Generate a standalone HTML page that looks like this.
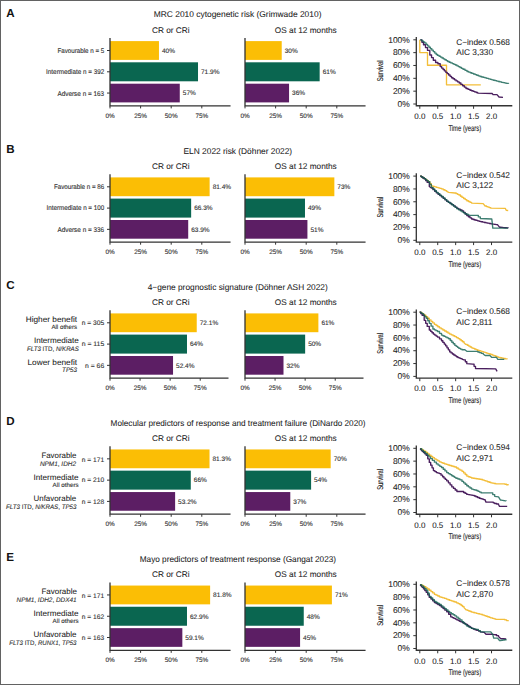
<!DOCTYPE html>
<html><head><meta charset="utf-8"><style>
html,body{margin:0;padding:0;background:#fff;}
body{width:520px;height:685px;overflow:hidden;position:relative;}
svg{position:absolute;left:0;top:0;font-family:"Liberation Sans", sans-serif;text-rendering:geometricPrecision;}
#frame{position:absolute;left:0;top:0;width:518px;height:683px;border:1px solid #626262;}
</style></head><body>
<svg width="520" height="685" viewBox="0 0 520 685">
<g transform="translate(0,0)">
<text x="6.20" y="16.50" font-size="11.6" font-weight="bold" fill="#111" stroke="#111" stroke-width="0">A</text>
<text x="237.60" y="17.40" font-size="8.4" text-anchor="middle" fill="#222222" stroke="#222222" stroke-width="0.06" textLength="167.70" lengthAdjust="spacingAndGlyphs">MRC 2010 cytogenetic risk (Grimwade 2010)</text>
<text x="170.80" y="33.00" font-size="8.25" text-anchor="middle" fill="#222222" stroke="#222222" stroke-width="0.06">CR or CRi</text>
<text x="305.80" y="33.00" font-size="8.25" text-anchor="middle" fill="#222222" stroke="#222222" stroke-width="0.06">OS at 12 months</text>
<g transform="translate(0,0)">
<rect x="110.00" y="41.1" width="48.96" height="18.80" fill="#FBBE05"/>
<text x="161.96" y="52.80" font-size="6.5" fill="#333" stroke="#333" stroke-width="0.12">40%</text>
<rect x="110.00" y="62.3" width="88.01" height="19.00" fill="#0A6650"/>
<text x="201.01" y="74.10" font-size="6.5" fill="#333" stroke="#333" stroke-width="0.12">71.9%</text>
<rect x="110.00" y="83.7" width="69.77" height="18.70" fill="#5C1E64"/>
<text x="182.77" y="95.35" font-size="6.5" fill="#333" stroke="#333" stroke-width="0.12">57%</text>
<path d="M110.00 38 V105.85 M109.35 105.85 H230.56" stroke="#333333" stroke-width="1.3" fill="none"/>
<path d="M110.00 105.85 V108.4" stroke="#333333" stroke-width="1" fill="none"/>
<text x="110.00" y="117.80" font-size="6.4" text-anchor="middle" fill="#333" stroke="#333" stroke-width="0.12">0%</text>
<path d="M140.60 105.85 V108.4" stroke="#333333" stroke-width="1" fill="none"/>
<text x="140.60" y="117.80" font-size="6.4" text-anchor="middle" fill="#333" stroke="#333" stroke-width="0.12">25%</text>
<path d="M171.20 105.85 V108.4" stroke="#333333" stroke-width="1" fill="none"/>
<text x="171.20" y="117.80" font-size="6.4" text-anchor="middle" fill="#333" stroke="#333" stroke-width="0.12">50%</text>
<path d="M201.80 105.85 V108.4" stroke="#333333" stroke-width="1" fill="none"/>
<text x="201.80" y="117.80" font-size="6.4" text-anchor="middle" fill="#333" stroke="#333" stroke-width="0.12">75%</text>
<path d="M107 50.50 H110" stroke="#333333" stroke-width="1" fill="none"/>
<path d="M107 71.80 H110" stroke="#333333" stroke-width="1" fill="none"/>
<path d="M107 93.05 H110" stroke="#333333" stroke-width="1" fill="none"/>
<rect x="245.00" y="41.1" width="36.72" height="18.80" fill="#FBBE05"/>
<text x="284.72" y="52.80" font-size="6.5" fill="#333" stroke="#333" stroke-width="0.12">30%</text>
<rect x="245.00" y="62.3" width="74.66" height="19.00" fill="#0A6650"/>
<text x="322.66" y="74.10" font-size="6.5" fill="#333" stroke="#333" stroke-width="0.12">61%</text>
<rect x="245.00" y="83.7" width="44.06" height="18.70" fill="#5C1E64"/>
<text x="292.06" y="95.35" font-size="6.5" fill="#333" stroke="#333" stroke-width="0.12">36%</text>
<path d="M245.00 38 V105.85 M244.35 105.85 H365.56" stroke="#333333" stroke-width="1.3" fill="none"/>
<path d="M245.00 105.85 V108.4" stroke="#333333" stroke-width="1" fill="none"/>
<text x="245.00" y="117.80" font-size="6.4" text-anchor="middle" fill="#333" stroke="#333" stroke-width="0.12">0%</text>
<path d="M275.60 105.85 V108.4" stroke="#333333" stroke-width="1" fill="none"/>
<text x="275.60" y="117.80" font-size="6.4" text-anchor="middle" fill="#333" stroke="#333" stroke-width="0.12">25%</text>
<path d="M306.20 105.85 V108.4" stroke="#333333" stroke-width="1" fill="none"/>
<text x="306.20" y="117.80" font-size="6.4" text-anchor="middle" fill="#333" stroke="#333" stroke-width="0.12">50%</text>
<path d="M336.80 105.85 V108.4" stroke="#333333" stroke-width="1" fill="none"/>
<text x="336.80" y="117.80" font-size="6.4" text-anchor="middle" fill="#333" stroke="#333" stroke-width="0.12">75%</text>
</g>
</g>
<text x="80.80" y="52.90" font-size="6.8" text-anchor="middle" fill="#333" stroke="#333" stroke-width="0.12" textLength="46.80" lengthAdjust="spacingAndGlyphs">Favourable n = 5</text>
<text x="75.15" y="74.30" font-size="6.8" text-anchor="middle" fill="#333" stroke="#333" stroke-width="0.12" textLength="58.10" lengthAdjust="spacingAndGlyphs">Intermediate n = 392</text>
<text x="80.80" y="95.75" font-size="6.8" text-anchor="middle" fill="#333" stroke="#333" stroke-width="0.12" textLength="46.80" lengthAdjust="spacingAndGlyphs">Adverse n = 163</text>
<g transform="translate(0,0)">
<g transform="translate(0,0)">
<path d="M416.3 37 V105.75 H512.3" stroke="#333333" stroke-width="1.3" fill="none"/>
<path d="M413.3 104.00 H416.3" stroke="#333333" stroke-width="1" fill="none"/>
<text x="409.80" y="106.75" font-size="8.45" text-anchor="end" fill="#222222" stroke="#222222" stroke-width="0.06">0%</text>
<path d="M413.3 91.16 H416.3" stroke="#333333" stroke-width="1" fill="none"/>
<text x="409.80" y="93.91" font-size="8.45" text-anchor="end" fill="#222222" stroke="#222222" stroke-width="0.06">20%</text>
<path d="M413.3 78.32 H416.3" stroke="#333333" stroke-width="1" fill="none"/>
<text x="409.80" y="81.07" font-size="8.45" text-anchor="end" fill="#222222" stroke="#222222" stroke-width="0.06">40%</text>
<path d="M413.3 65.48 H416.3" stroke="#333333" stroke-width="1" fill="none"/>
<text x="409.80" y="68.23" font-size="8.45" text-anchor="end" fill="#222222" stroke="#222222" stroke-width="0.06">60%</text>
<path d="M413.3 52.64 H416.3" stroke="#333333" stroke-width="1" fill="none"/>
<text x="409.80" y="55.39" font-size="8.45" text-anchor="end" fill="#222222" stroke="#222222" stroke-width="0.06">80%</text>
<path d="M413.3 39.80 H416.3" stroke="#333333" stroke-width="1" fill="none"/>
<text x="409.80" y="42.55" font-size="8.45" text-anchor="end" fill="#222222" stroke="#222222" stroke-width="0.06">100%</text>
<path d="M419.80 105.75 V108.8" stroke="#333333" stroke-width="1" fill="none"/>
<text x="419.80" y="119.00" font-size="8.0" text-anchor="middle" fill="#222222" stroke="#222222" stroke-width="0.06">0.0</text>
<path d="M437.73 105.75 V108.8" stroke="#333333" stroke-width="1" fill="none"/>
<text x="437.73" y="119.00" font-size="8.0" text-anchor="middle" fill="#222222" stroke="#222222" stroke-width="0.06">0.5</text>
<path d="M455.66 105.75 V108.8" stroke="#333333" stroke-width="1" fill="none"/>
<text x="455.66" y="119.00" font-size="8.0" text-anchor="middle" fill="#222222" stroke="#222222" stroke-width="0.06">1.0</text>
<path d="M473.59 105.75 V108.8" stroke="#333333" stroke-width="1" fill="none"/>
<text x="473.59" y="119.00" font-size="8.0" text-anchor="middle" fill="#222222" stroke="#222222" stroke-width="0.06">1.5</text>
<path d="M491.52 105.75 V108.8" stroke="#333333" stroke-width="1" fill="none"/>
<text x="491.52" y="119.00" font-size="8.0" text-anchor="middle" fill="#222222" stroke="#222222" stroke-width="0.06">2.0</text>
<text transform="translate(382.6,70.9) rotate(-90) scale(0.7,1)" text-anchor="middle" font-size="8.4" fill="#222222" stroke="#222222" stroke-width="0.12">Survival</text>
<text transform="translate(464.8,130.9) scale(0.7,1)" text-anchor="middle" font-size="8.4" fill="#222222" stroke="#222222" stroke-width="0.12">Time (years)</text>
</g>
<text x="456.20" y="45.00" font-size="8.3" fill="#222222" stroke="#222222" stroke-width="0.06">C−index 0.568</text>
<text x="456.20" y="55.30" font-size="8.3" fill="#222222" stroke="#222222" stroke-width="0.06">AIC 3,330</text>
</g>
<path d="M419.80 39.80 L419.80 52.60 L427.50 52.60 L427.50 65.20 L446.50 65.20 L446.50 84.80 L480.80 84.80" stroke="#F3BE3A" stroke-width="1.35" stroke-opacity="1" fill="none" stroke-linejoin="round"/>
<path d="M420.30 39.80 L421.90 39.80 L421.90 42.25 L423.50 42.25 L423.50 44.70 L425.50 44.70 L425.50 47.55 L427.50 47.55 L427.50 50.40 L429.80 50.40 L429.80 55.00 L431.55 55.00 L431.55 57.60 L433.30 57.60 L433.30 60.20 L435.60 60.20 L435.60 62.50 L437.90 62.50 L437.90 63.70 L440.20 63.70 L440.20 66.60 L441.65 66.60 L441.65 68.05 L443.10 68.05 L443.10 69.50 L444.45 69.50 L444.45 70.90 L445.80 70.90 L445.80 72.30 L447.23 72.30 L447.23 73.65 L448.65 73.65 L448.65 75.00 L450.07 75.00 L450.07 76.35 L451.50 76.35 L451.50 77.70 L453.04 77.70 L453.04 78.76 L454.58 78.76 L454.58 79.82 L456.12 79.82 L456.12 80.88 L457.66 80.88 L457.66 81.94 L459.20 81.94 L459.20 83.00 L460.90 83.00 L460.90 84.38 L462.60 84.38 L462.60 85.75 L464.30 85.75 L464.30 87.12 L466.00 87.12 L466.00 88.50 L468.00 88.50 L468.00 89.35 L470.00 89.35 L470.00 90.20 L471.54 90.20 L471.54 90.78 L473.08 90.78 L473.08 91.36 L474.62 91.36 L474.62 91.94 L476.16 91.94 L476.16 92.52 L477.70 92.52 L477.70 93.10 L492.30 93.50 L493.00 94.60 L497.00 94.60 L499.00 97.00 L503.00 97.30" stroke="#4A1F5E" stroke-width="1.35" stroke-opacity="1" fill="none" stroke-linejoin="round"/>
<path d="M420.30 39.80 L421.77 39.80 L421.77 40.83 L423.23 40.83 L423.23 41.87 L424.70 41.87 L424.70 42.90 L426.12 42.90 L426.12 44.35 L427.55 44.35 L427.55 45.80 L428.97 45.80 L428.97 47.25 L430.40 47.25 L430.40 48.70 L431.85 48.70 L431.85 50.15 L433.30 50.15 L433.30 51.60 L434.75 51.60 L434.75 53.05 L436.20 53.05 L436.20 54.50 L437.65 54.50 L437.65 55.38 L439.10 55.38 L439.10 56.25 L440.55 56.25 L440.55 57.12 L442.00 57.12 L442.00 58.00 L443.43 58.00 L443.43 58.88 L444.85 58.88 L444.85 59.75 L446.27 59.75 L446.27 60.62 L447.70 60.62 L447.70 61.50 L449.24 61.50 L449.24 62.20 L450.78 62.20 L450.78 62.90 L452.32 62.90 L452.32 63.60 L453.86 63.60 L453.86 64.30 L455.40 64.30 L455.40 65.00 L456.92 65.00 L456.92 65.84 L458.44 65.84 L458.44 66.68 L459.96 66.68 L459.96 67.52 L461.48 67.52 L461.48 68.36 L463.00 68.36 L463.00 69.20 L465.00 69.20 L465.00 70.35 L467.00 70.35 L467.00 71.50 L468.62 71.50 L468.62 72.12 L470.25 72.12 L470.25 72.75 L471.88 72.75 L471.88 73.38 L473.50 73.38 L473.50 74.00 L475.12 74.00 L475.12 74.62 L476.75 74.62 L476.75 75.25 L478.38 75.25 L478.38 75.88 L480.00 75.88 L480.00 76.50 L481.70 76.50 L481.70 76.97 L483.40 76.97 L483.40 77.44 L485.10 77.44 L485.10 77.91 L486.80 77.91 L486.80 78.39 L488.50 78.39 L488.50 78.86 L490.20 78.86 L490.20 79.33 L491.90 79.33 L491.90 79.80 L493.50 79.80 L493.50 80.22 L495.10 80.22 L495.10 80.63 L496.70 80.63 L496.70 81.05 L498.30 81.05 L498.30 81.47 L499.90 81.47 L499.90 81.88 L501.50 81.88 L501.50 82.30 L503.25 82.30 L503.25 82.67 L505.00 82.67 L505.00 83.05 L506.75 83.05 L506.75 83.42 L508.50 83.42 L508.50 83.80" stroke="#0E5E4E" stroke-width="1.35" stroke-opacity="0.8" fill="none" stroke-linejoin="round"/>
<g transform="translate(0,136)">
<text x="6.20" y="16.50" font-size="11.6" font-weight="bold" fill="#111" stroke="#111" stroke-width="0">B</text>
<text x="237.85" y="17.50" font-size="8.4" text-anchor="middle" fill="#222222" stroke="#222222" stroke-width="0.06" textLength="108.60" lengthAdjust="spacingAndGlyphs">ELN 2022 risk (Döhner 2022)</text>
<text x="170.80" y="33.00" font-size="8.25" text-anchor="middle" fill="#222222" stroke="#222222" stroke-width="0.06">CR or CRi</text>
<text x="305.80" y="33.00" font-size="8.25" text-anchor="middle" fill="#222222" stroke="#222222" stroke-width="0.06">OS at 12 months</text>
<g transform="translate(0,0.3)">
<rect x="110.00" y="41.1" width="99.63" height="18.80" fill="#FBBE05"/>
<text x="212.63" y="52.80" font-size="6.5" fill="#333" stroke="#333" stroke-width="0.12">81.4%</text>
<rect x="110.00" y="62.3" width="81.15" height="19.00" fill="#0A6650"/>
<text x="194.15" y="74.10" font-size="6.5" fill="#333" stroke="#333" stroke-width="0.12">66.3%</text>
<rect x="110.00" y="83.7" width="78.21" height="18.70" fill="#5C1E64"/>
<text x="191.21" y="95.35" font-size="6.5" fill="#333" stroke="#333" stroke-width="0.12">63.9%</text>
<path d="M110.00 38 V105.85 M109.35 105.85 H230.56" stroke="#333333" stroke-width="1.3" fill="none"/>
<path d="M110.00 105.85 V108.4" stroke="#333333" stroke-width="1" fill="none"/>
<text x="110.00" y="117.80" font-size="6.4" text-anchor="middle" fill="#333" stroke="#333" stroke-width="0.12">0%</text>
<path d="M140.60 105.85 V108.4" stroke="#333333" stroke-width="1" fill="none"/>
<text x="140.60" y="117.80" font-size="6.4" text-anchor="middle" fill="#333" stroke="#333" stroke-width="0.12">25%</text>
<path d="M171.20 105.85 V108.4" stroke="#333333" stroke-width="1" fill="none"/>
<text x="171.20" y="117.80" font-size="6.4" text-anchor="middle" fill="#333" stroke="#333" stroke-width="0.12">50%</text>
<path d="M201.80 105.85 V108.4" stroke="#333333" stroke-width="1" fill="none"/>
<text x="201.80" y="117.80" font-size="6.4" text-anchor="middle" fill="#333" stroke="#333" stroke-width="0.12">75%</text>
<path d="M107 50.50 H110" stroke="#333333" stroke-width="1" fill="none"/>
<path d="M107 71.80 H110" stroke="#333333" stroke-width="1" fill="none"/>
<path d="M107 93.05 H110" stroke="#333333" stroke-width="1" fill="none"/>
<rect x="245.00" y="41.1" width="89.35" height="18.80" fill="#FBBE05"/>
<text x="337.35" y="52.80" font-size="6.5" fill="#333" stroke="#333" stroke-width="0.12">73%</text>
<rect x="245.00" y="62.3" width="59.98" height="19.00" fill="#0A6650"/>
<text x="307.98" y="74.10" font-size="6.5" fill="#333" stroke="#333" stroke-width="0.12">49%</text>
<rect x="245.00" y="83.7" width="62.42" height="18.70" fill="#5C1E64"/>
<text x="310.42" y="95.35" font-size="6.5" fill="#333" stroke="#333" stroke-width="0.12">51%</text>
<path d="M245.00 38 V105.85 M244.35 105.85 H365.56" stroke="#333333" stroke-width="1.3" fill="none"/>
<path d="M245.00 105.85 V108.4" stroke="#333333" stroke-width="1" fill="none"/>
<text x="245.00" y="117.80" font-size="6.4" text-anchor="middle" fill="#333" stroke="#333" stroke-width="0.12">0%</text>
<path d="M275.60 105.85 V108.4" stroke="#333333" stroke-width="1" fill="none"/>
<text x="275.60" y="117.80" font-size="6.4" text-anchor="middle" fill="#333" stroke="#333" stroke-width="0.12">25%</text>
<path d="M306.20 105.85 V108.4" stroke="#333333" stroke-width="1" fill="none"/>
<text x="306.20" y="117.80" font-size="6.4" text-anchor="middle" fill="#333" stroke="#333" stroke-width="0.12">50%</text>
<path d="M336.80 105.85 V108.4" stroke="#333333" stroke-width="1" fill="none"/>
<text x="336.80" y="117.80" font-size="6.4" text-anchor="middle" fill="#333" stroke="#333" stroke-width="0.12">75%</text>
</g>
</g>
<text x="79.05" y="188.90" font-size="6.8" text-anchor="middle" fill="#333" stroke="#333" stroke-width="0.12" textLength="50.30" lengthAdjust="spacingAndGlyphs">Favourable n = 86</text>
<text x="75.40" y="210.30" font-size="6.8" text-anchor="middle" fill="#333" stroke="#333" stroke-width="0.12" textLength="57.60" lengthAdjust="spacingAndGlyphs">Intermediate n = 100</text>
<text x="80.80" y="231.90" font-size="6.8" text-anchor="middle" fill="#333" stroke="#333" stroke-width="0.12" textLength="46.80" lengthAdjust="spacingAndGlyphs">Adverse n = 336</text>
<g transform="translate(0,136)">
<g transform="translate(0,0.3)">
<path d="M416.3 37 V105.75 H512.3" stroke="#333333" stroke-width="1.3" fill="none"/>
<path d="M413.3 104.00 H416.3" stroke="#333333" stroke-width="1" fill="none"/>
<text x="409.80" y="106.75" font-size="8.45" text-anchor="end" fill="#222222" stroke="#222222" stroke-width="0.06">0%</text>
<path d="M413.3 91.16 H416.3" stroke="#333333" stroke-width="1" fill="none"/>
<text x="409.80" y="93.91" font-size="8.45" text-anchor="end" fill="#222222" stroke="#222222" stroke-width="0.06">20%</text>
<path d="M413.3 78.32 H416.3" stroke="#333333" stroke-width="1" fill="none"/>
<text x="409.80" y="81.07" font-size="8.45" text-anchor="end" fill="#222222" stroke="#222222" stroke-width="0.06">40%</text>
<path d="M413.3 65.48 H416.3" stroke="#333333" stroke-width="1" fill="none"/>
<text x="409.80" y="68.23" font-size="8.45" text-anchor="end" fill="#222222" stroke="#222222" stroke-width="0.06">60%</text>
<path d="M413.3 52.64 H416.3" stroke="#333333" stroke-width="1" fill="none"/>
<text x="409.80" y="55.39" font-size="8.45" text-anchor="end" fill="#222222" stroke="#222222" stroke-width="0.06">80%</text>
<path d="M413.3 39.80 H416.3" stroke="#333333" stroke-width="1" fill="none"/>
<text x="409.80" y="42.55" font-size="8.45" text-anchor="end" fill="#222222" stroke="#222222" stroke-width="0.06">100%</text>
<path d="M419.80 105.75 V108.8" stroke="#333333" stroke-width="1" fill="none"/>
<text x="419.80" y="119.00" font-size="8.0" text-anchor="middle" fill="#222222" stroke="#222222" stroke-width="0.06">0.0</text>
<path d="M437.73 105.75 V108.8" stroke="#333333" stroke-width="1" fill="none"/>
<text x="437.73" y="119.00" font-size="8.0" text-anchor="middle" fill="#222222" stroke="#222222" stroke-width="0.06">0.5</text>
<path d="M455.66 105.75 V108.8" stroke="#333333" stroke-width="1" fill="none"/>
<text x="455.66" y="119.00" font-size="8.0" text-anchor="middle" fill="#222222" stroke="#222222" stroke-width="0.06">1.0</text>
<path d="M473.59 105.75 V108.8" stroke="#333333" stroke-width="1" fill="none"/>
<text x="473.59" y="119.00" font-size="8.0" text-anchor="middle" fill="#222222" stroke="#222222" stroke-width="0.06">1.5</text>
<path d="M491.52 105.75 V108.8" stroke="#333333" stroke-width="1" fill="none"/>
<text x="491.52" y="119.00" font-size="8.0" text-anchor="middle" fill="#222222" stroke="#222222" stroke-width="0.06">2.0</text>
<text transform="translate(382.6,70.9) rotate(-90) scale(0.7,1)" text-anchor="middle" font-size="8.4" fill="#222222" stroke="#222222" stroke-width="0.12">Survival</text>
<text transform="translate(464.8,130.9) scale(0.7,1)" text-anchor="middle" font-size="8.4" fill="#222222" stroke="#222222" stroke-width="0.12">Time (years)</text>
</g>
<text x="456.20" y="42.00" font-size="8.3" fill="#222222" stroke="#222222" stroke-width="0.06">C−index 0.542</text>
<text x="456.20" y="52.30" font-size="8.3" fill="#222222" stroke="#222222" stroke-width="0.06">AIC 3,122</text>
</g>
<path d="M420.10 176.10 L421.47 176.10 L421.47 176.93 L422.83 176.93 L422.83 177.77 L424.20 177.77 L424.20 178.60 L425.57 178.60 L425.57 179.63 L426.93 179.63 L426.93 180.67 L428.30 180.67 L428.30 181.70 L429.80 181.70 L429.80 183.75 L431.30 183.75 L431.30 185.80 L433.00 185.80 L433.00 186.30 L434.70 186.30 L434.70 186.80 L436.40 186.80 L436.40 187.30 L438.10 187.30 L438.10 187.83 L439.80 187.83 L439.80 188.37 L441.50 188.37 L441.50 188.90 L443.23 188.90 L443.23 189.73 L444.97 189.73 L444.97 190.57 L446.70 190.57 L446.70 191.40 L448.70 192.40 L454.80 193.00 L456.17 193.00 L456.17 193.67 L457.53 193.67 L457.53 194.33 L458.90 194.33 L458.90 195.00 L460.45 195.00 L460.45 196.20 L462.00 196.20 L462.00 197.40 L463.60 197.40 L463.60 198.50 L465.20 198.50 L465.20 199.60 L466.80 199.60 L466.80 200.70 L468.40 200.70 L468.40 201.50 L470.00 201.50 L470.00 202.30 L471.60 202.30 L471.60 203.10 L483.20 203.60 L485.10 206.00 L486.53 206.00 L486.53 206.55 L487.95 206.55 L487.95 207.10 L489.38 207.10 L489.38 207.65 L490.80 207.65 L490.80 208.20 L505.30 208.40 L506.20 210.30 L508.20 210.50" stroke="#F3BE3A" stroke-width="1.35" stroke-opacity="1" fill="none" stroke-linejoin="round"/>
<path d="M420.10 176.10 L421.47 176.10 L421.47 177.03 L422.83 177.03 L422.83 177.97 L424.20 177.97 L424.20 178.90 L425.70 178.90 L425.70 180.65 L427.20 180.65 L427.20 182.40 L429.30 182.40 L429.30 186.50 L431.30 188.00 L433.00 188.00 L433.00 189.63 L434.70 189.63 L434.70 191.27 L436.40 191.27 L436.40 192.90 L438.10 192.90 L438.10 194.23 L439.80 194.23 L439.80 195.57 L441.50 195.57 L441.50 196.90 L443.23 196.90 L443.23 198.37 L444.97 198.37 L444.97 199.83 L446.70 199.83 L446.70 201.30 L448.40 201.30 L448.40 202.40 L450.10 202.40 L450.10 203.50 L451.80 203.50 L451.80 204.60 L453.50 204.60 L453.50 205.83 L455.20 205.83 L455.20 207.07 L456.90 207.07 L456.90 208.30 L458.60 208.30 L458.60 209.13 L460.30 209.13 L460.30 209.97 L462.00 209.97 L462.00 210.80 L463.60 210.80 L463.60 212.40 L465.20 212.40 L465.20 214.00 L466.80 214.00 L466.80 215.60 L468.40 215.60 L468.40 216.73 L470.00 216.73 L470.00 217.87 L471.60 217.87 L471.60 219.00 L473.14 219.00 L473.14 219.48 L474.68 219.48 L474.68 219.96 L476.22 219.96 L476.22 220.44 L477.76 220.44 L477.76 220.92 L479.30 220.92 L479.30 221.40 L480.98 221.40 L480.98 221.75 L482.65 221.75 L482.65 222.10 L484.32 222.10 L484.32 222.45 L486.00 222.45 L486.00 222.80 L487.60 222.80 L487.60 223.13 L489.20 223.13 L489.20 223.47 L490.80 223.47 L490.80 223.80 L492.50 223.80 L492.50 224.05 L494.20 224.05 L494.20 224.30 L495.90 224.30 L495.90 224.55 L497.60 224.55 L497.60 224.80 L499.50 227.20 L501.24 227.20 L501.24 227.38 L502.98 227.38 L502.98 227.56 L504.72 227.56 L504.72 227.74 L506.46 227.74 L506.46 227.92 L508.20 227.92 L508.20 228.10" stroke="#4A1F5E" stroke-width="1.35" stroke-opacity="1" fill="none" stroke-linejoin="round"/>
<path d="M420.10 176.10 L421.47 176.10 L421.47 176.93 L422.83 176.93 L422.83 177.77 L424.20 177.77 L424.20 178.60 L425.57 178.60 L425.57 179.63 L426.93 179.63 L426.93 180.67 L428.30 180.67 L428.30 181.70 L429.80 181.70 L429.80 184.50 L431.30 184.50 L431.30 187.30 L433.00 187.30 L433.00 189.00 L434.70 189.00 L434.70 190.70 L436.40 190.70 L436.40 192.40 L438.10 192.40 L438.10 193.77 L439.80 193.77 L439.80 195.13 L441.50 195.13 L441.50 196.50 L443.23 196.50 L443.23 198.03 L444.97 198.03 L444.97 199.57 L446.70 199.57 L446.70 201.10 L448.40 201.10 L448.40 202.30 L450.10 202.30 L450.10 203.50 L451.80 203.50 L451.80 204.70 L453.50 204.70 L453.50 206.07 L455.20 206.07 L455.20 207.43 L456.90 207.43 L456.90 208.80 L458.60 208.80 L458.60 209.80 L460.30 209.80 L460.30 210.80 L462.00 210.80 L462.00 211.80 L463.45 211.80 L463.45 212.75 L464.90 212.75 L464.90 213.70 L466.80 213.70 L466.80 214.50 L468.70 214.50 L468.70 215.30 L476.40 215.30 L478.35 215.30 L478.35 216.90 L480.30 216.90 L480.30 218.50 L491.80 219.00 L492.80 228.10 L508.20 228.10" stroke="#0E5E4E" stroke-width="1.35" stroke-opacity="0.8" fill="none" stroke-linejoin="round"/>
<g transform="translate(0,272)">
<text x="6.20" y="16.50" font-size="11.6" font-weight="bold" fill="#111" stroke="#111" stroke-width="0">C</text>
<text x="237.73" y="17.60" font-size="8.4" text-anchor="middle" fill="#222222" stroke="#222222" stroke-width="0.06" textLength="180.05" lengthAdjust="spacingAndGlyphs">4−gene prognostic signature (Döhner ASH 2022)</text>
<text x="170.80" y="33.00" font-size="8.25" text-anchor="middle" fill="#222222" stroke="#222222" stroke-width="0.06">CR or CRi</text>
<text x="305.80" y="33.00" font-size="8.25" text-anchor="middle" fill="#222222" stroke="#222222" stroke-width="0.06">OS at 12 months</text>
<g transform="translate(0,0.3)">
<rect x="110.00" y="41.1" width="86.74" height="18.80" fill="#FBBE05"/>
<text x="199.74" y="52.80" font-size="6.5" fill="#333" stroke="#333" stroke-width="0.12">72.1%</text>
<rect x="110.00" y="62.3" width="76.99" height="19.00" fill="#0A6650"/>
<text x="189.99" y="74.10" font-size="6.5" fill="#333" stroke="#333" stroke-width="0.12">64%</text>
<rect x="110.00" y="83.7" width="63.04" height="18.70" fill="#5C1E64"/>
<text x="176.04" y="95.35" font-size="6.5" fill="#333" stroke="#333" stroke-width="0.12">52.4%</text>
<path d="M110.00 38 V105.85 M109.35 105.85 H228.50" stroke="#333333" stroke-width="1.3" fill="none"/>
<path d="M110.00 105.85 V108.4" stroke="#333333" stroke-width="1" fill="none"/>
<text x="110.00" y="117.80" font-size="6.4" text-anchor="middle" fill="#333" stroke="#333" stroke-width="0.12">0%</text>
<path d="M140.07 105.85 V108.4" stroke="#333333" stroke-width="1" fill="none"/>
<text x="140.07" y="117.80" font-size="6.4" text-anchor="middle" fill="#333" stroke="#333" stroke-width="0.12">25%</text>
<path d="M170.15 105.85 V108.4" stroke="#333333" stroke-width="1" fill="none"/>
<text x="170.15" y="117.80" font-size="6.4" text-anchor="middle" fill="#333" stroke="#333" stroke-width="0.12">50%</text>
<path d="M200.22 105.85 V108.4" stroke="#333333" stroke-width="1" fill="none"/>
<text x="200.22" y="117.80" font-size="6.4" text-anchor="middle" fill="#333" stroke="#333" stroke-width="0.12">75%</text>
<path d="M107 50.50 H110" stroke="#333333" stroke-width="1" fill="none"/>
<path d="M107 71.80 H110" stroke="#333333" stroke-width="1" fill="none"/>
<path d="M107 93.05 H110" stroke="#333333" stroke-width="1" fill="none"/>
<rect x="245.00" y="41.1" width="73.38" height="18.80" fill="#FBBE05"/>
<text x="321.38" y="52.80" font-size="6.5" fill="#333" stroke="#333" stroke-width="0.12">61%</text>
<rect x="245.00" y="62.3" width="60.15" height="19.00" fill="#0A6650"/>
<text x="308.15" y="74.10" font-size="6.5" fill="#333" stroke="#333" stroke-width="0.12">50%</text>
<rect x="245.00" y="83.7" width="38.50" height="18.70" fill="#5C1E64"/>
<text x="286.50" y="95.35" font-size="6.5" fill="#333" stroke="#333" stroke-width="0.12">32%</text>
<path d="M245.00 38 V105.85 M244.35 105.85 H363.50" stroke="#333333" stroke-width="1.3" fill="none"/>
<path d="M245.00 105.85 V108.4" stroke="#333333" stroke-width="1" fill="none"/>
<text x="245.00" y="117.80" font-size="6.4" text-anchor="middle" fill="#333" stroke="#333" stroke-width="0.12">0%</text>
<path d="M275.07 105.85 V108.4" stroke="#333333" stroke-width="1" fill="none"/>
<text x="275.07" y="117.80" font-size="6.4" text-anchor="middle" fill="#333" stroke="#333" stroke-width="0.12">25%</text>
<path d="M305.15 105.85 V108.4" stroke="#333333" stroke-width="1" fill="none"/>
<text x="305.15" y="117.80" font-size="6.4" text-anchor="middle" fill="#333" stroke="#333" stroke-width="0.12">50%</text>
<path d="M335.23 105.85 V108.4" stroke="#333333" stroke-width="1" fill="none"/>
<text x="335.23" y="117.80" font-size="6.4" text-anchor="middle" fill="#333" stroke="#333" stroke-width="0.12">75%</text>
</g>
</g>
<text x="51.41" y="322.10" font-size="8.0" text-anchor="middle" fill="#222222" stroke="#222222" stroke-width="0.06" textLength="51.31" lengthAdjust="spacingAndGlyphs">Higher benefit</text>
<text x="64.25" y="329.40" font-size="6.2" text-anchor="middle" fill="#333" stroke="#333" stroke-width="0.12" textLength="25.70" lengthAdjust="spacingAndGlyphs">All others</text>
<text x="56.35" y="343.40" font-size="8.0" text-anchor="middle" fill="#222222" stroke="#222222" stroke-width="0.06" textLength="44.90" lengthAdjust="spacingAndGlyphs">Intermediate</text>
<text x="52.90" y="350.70" font-size="6.6" text-anchor="middle" fill="#333" stroke="#333" stroke-width="0.12" textLength="51.80" lengthAdjust="spacingAndGlyphs"><tspan font-style='italic'>FLT3</tspan> ITD, <tspan font-style='italic'>N/KRAS</tspan></text>
<text x="52.30" y="365.00" font-size="8.0" text-anchor="middle" fill="#222222" stroke="#222222" stroke-width="0.06" textLength="49.60" lengthAdjust="spacingAndGlyphs">Lower benefit</text>
<text x="69.60" y="372.00" font-size="6.6" text-anchor="middle" fill="#333" stroke="#333" stroke-width="0.12" textLength="15.00" lengthAdjust="spacingAndGlyphs"><tspan font-style='italic'>TP53</tspan></text>
<text x="92.95" y="325.30" font-size="6.6" text-anchor="middle" fill="#333" stroke="#333" stroke-width="0.12" textLength="22.50" lengthAdjust="spacingAndGlyphs">n = 305</text>
<text x="92.95" y="346.40" font-size="6.6" text-anchor="middle" fill="#333" stroke="#333" stroke-width="0.12" textLength="22.50" lengthAdjust="spacingAndGlyphs">n = 115</text>
<text x="94.65" y="367.70" font-size="6.6" text-anchor="middle" fill="#333" stroke="#333" stroke-width="0.12" textLength="19.10" lengthAdjust="spacingAndGlyphs">n = 66</text>
<g transform="translate(0,272)">
<g transform="translate(0,0.4)">
<path d="M416.3 37 V105.75 H512.3" stroke="#333333" stroke-width="1.3" fill="none"/>
<path d="M413.3 104.00 H416.3" stroke="#333333" stroke-width="1" fill="none"/>
<text x="409.80" y="106.75" font-size="8.45" text-anchor="end" fill="#222222" stroke="#222222" stroke-width="0.06">0%</text>
<path d="M413.3 91.16 H416.3" stroke="#333333" stroke-width="1" fill="none"/>
<text x="409.80" y="93.91" font-size="8.45" text-anchor="end" fill="#222222" stroke="#222222" stroke-width="0.06">20%</text>
<path d="M413.3 78.32 H416.3" stroke="#333333" stroke-width="1" fill="none"/>
<text x="409.80" y="81.07" font-size="8.45" text-anchor="end" fill="#222222" stroke="#222222" stroke-width="0.06">40%</text>
<path d="M413.3 65.48 H416.3" stroke="#333333" stroke-width="1" fill="none"/>
<text x="409.80" y="68.23" font-size="8.45" text-anchor="end" fill="#222222" stroke="#222222" stroke-width="0.06">60%</text>
<path d="M413.3 52.64 H416.3" stroke="#333333" stroke-width="1" fill="none"/>
<text x="409.80" y="55.39" font-size="8.45" text-anchor="end" fill="#222222" stroke="#222222" stroke-width="0.06">80%</text>
<path d="M413.3 39.80 H416.3" stroke="#333333" stroke-width="1" fill="none"/>
<text x="409.80" y="42.55" font-size="8.45" text-anchor="end" fill="#222222" stroke="#222222" stroke-width="0.06">100%</text>
<path d="M419.80 105.75 V108.8" stroke="#333333" stroke-width="1" fill="none"/>
<text x="419.80" y="119.00" font-size="8.0" text-anchor="middle" fill="#222222" stroke="#222222" stroke-width="0.06">0.0</text>
<path d="M437.73 105.75 V108.8" stroke="#333333" stroke-width="1" fill="none"/>
<text x="437.73" y="119.00" font-size="8.0" text-anchor="middle" fill="#222222" stroke="#222222" stroke-width="0.06">0.5</text>
<path d="M455.66 105.75 V108.8" stroke="#333333" stroke-width="1" fill="none"/>
<text x="455.66" y="119.00" font-size="8.0" text-anchor="middle" fill="#222222" stroke="#222222" stroke-width="0.06">1.0</text>
<path d="M473.59 105.75 V108.8" stroke="#333333" stroke-width="1" fill="none"/>
<text x="473.59" y="119.00" font-size="8.0" text-anchor="middle" fill="#222222" stroke="#222222" stroke-width="0.06">1.5</text>
<path d="M491.52 105.75 V108.8" stroke="#333333" stroke-width="1" fill="none"/>
<text x="491.52" y="119.00" font-size="8.0" text-anchor="middle" fill="#222222" stroke="#222222" stroke-width="0.06">2.0</text>
<text transform="translate(382.6,70.9) rotate(-90) scale(0.7,1)" text-anchor="middle" font-size="8.4" fill="#222222" stroke="#222222" stroke-width="0.12">Survival</text>
<text transform="translate(464.8,130.9) scale(0.7,1)" text-anchor="middle" font-size="8.4" fill="#222222" stroke="#222222" stroke-width="0.12">Time (years)</text>
</g>
<text x="456.20" y="42.40" font-size="8.3" fill="#222222" stroke="#222222" stroke-width="0.06">C−index 0.568</text>
<text x="456.20" y="52.70" font-size="8.3" fill="#222222" stroke="#222222" stroke-width="0.06">AIC 2,811</text>
</g>
<path d="M419.60 312.10 L421.13 312.10 L421.13 313.13 L422.67 313.13 L422.67 314.17 L424.20 314.17 L424.20 315.20 L425.90 315.20 L425.90 316.73 L427.60 316.73 L427.60 318.27 L429.30 318.27 L429.30 319.80 L431.00 319.80 L431.00 321.30 L432.70 321.30 L432.70 322.80 L434.40 322.80 L434.40 324.30 L436.10 324.30 L436.10 325.50 L437.80 325.50 L437.80 326.70 L439.50 326.70 L439.50 327.90 L441.20 327.90 L441.20 328.93 L442.90 328.93 L442.90 329.97 L444.60 329.97 L444.60 331.00 L446.30 331.00 L446.30 332.03 L448.00 332.03 L448.00 333.07 L449.70 333.07 L449.70 334.10 L451.40 334.10 L451.40 334.93 L453.10 334.93 L453.10 335.77 L454.80 335.77 L454.80 336.60 L456.50 336.60 L456.50 337.63 L458.20 337.63 L458.20 338.67 L459.90 338.67 L459.90 339.70 L461.27 339.70 L461.27 340.70 L462.63 340.70 L462.63 341.70 L464.00 341.70 L464.00 342.70 L465.80 344.40 L467.25 344.40 L467.25 345.25 L468.70 345.25 L468.70 346.10 L470.15 346.10 L470.15 346.95 L471.60 346.95 L471.60 347.80 L473.05 347.80 L473.05 348.40 L474.50 348.40 L474.50 349.00 L475.95 349.00 L475.95 349.60 L477.40 349.60 L477.40 350.20 L478.94 350.20 L478.94 350.68 L480.48 350.68 L480.48 351.16 L482.02 351.16 L482.02 351.64 L483.56 351.64 L483.56 352.12 L485.10 352.12 L485.10 352.60 L486.53 352.60 L486.53 353.08 L487.95 353.08 L487.95 353.55 L489.38 353.55 L489.38 354.02 L490.80 354.02 L490.80 354.50 L492.34 354.50 L492.34 355.08 L493.88 355.08 L493.88 355.66 L495.42 355.66 L495.42 356.24 L496.96 356.24 L496.96 356.82 L498.50 356.82 L498.50 357.40 L500.24 357.40 L500.24 357.78 L501.98 357.78 L501.98 358.16 L503.72 358.16 L503.72 358.54 L505.46 358.54 L505.46 358.92 L507.20 358.92 L507.20 359.30" stroke="#F3BE3A" stroke-width="1.35" stroke-opacity="1" fill="none" stroke-linejoin="round"/>
<path d="M419.60 312.10 L420.85 312.10 L420.85 313.65 L422.10 313.65 L422.10 315.20 L424.20 315.20 L424.20 320.30 L425.70 320.30 L425.70 323.35 L427.20 323.35 L427.20 326.40 L429.30 326.40 L429.30 330.00 L430.67 330.00 L430.67 331.37 L432.03 331.37 L432.03 332.73 L433.40 332.73 L433.40 334.10 L434.77 334.10 L434.77 335.10 L436.13 335.10 L436.13 336.10 L437.50 336.10 L437.50 337.10 L439.50 337.10 L439.50 338.90 L441.50 338.90 L441.50 340.70 L442.87 340.70 L442.87 342.40 L444.23 342.40 L444.23 344.10 L445.60 344.10 L445.60 345.80 L446.97 345.80 L446.97 347.83 L448.33 347.83 L448.33 349.87 L449.70 349.87 L449.70 351.90 L451.07 351.90 L451.07 352.93 L452.43 352.93 L452.43 353.97 L453.80 353.97 L453.80 355.00 L455.17 355.00 L455.17 355.87 L456.53 355.87 L456.53 356.73 L457.90 356.73 L457.90 357.60 L459.27 357.60 L459.27 358.10 L460.63 358.10 L460.63 358.60 L462.00 358.60 L462.00 359.10 L463.90 359.80 L465.35 359.80 L465.35 361.75 L466.80 361.75 L466.80 363.70 L472.60 364.10 L474.05 364.10 L474.05 366.30 L475.50 366.30 L475.50 368.50 L495.70 368.90 L497.10 371.30" stroke="#4A1F5E" stroke-width="1.35" stroke-opacity="1" fill="none" stroke-linejoin="round"/>
<path d="M419.60 312.10 L420.85 312.10 L420.85 312.85 L422.10 312.85 L422.10 313.60 L423.47 313.60 L423.47 315.13 L424.83 315.13 L424.83 316.67 L426.20 316.67 L426.20 318.20 L427.75 318.20 L427.75 320.75 L429.30 320.75 L429.30 323.30 L431.10 323.30 L431.10 326.15 L432.90 326.15 L432.90 329.00 L434.43 329.00 L434.43 329.83 L435.97 329.83 L435.97 330.67 L437.50 330.67 L437.50 331.50 L439.50 331.50 L439.50 333.30 L441.50 333.30 L441.50 335.10 L442.87 335.10 L442.87 335.77 L444.23 335.77 L444.23 336.43 L445.60 336.43 L445.60 337.10 L447.15 337.10 L447.15 337.90 L448.70 337.90 L448.70 338.70 L450.25 338.70 L450.25 340.45 L451.80 340.45 L451.80 342.20 L453.30 342.20 L453.30 343.75 L454.80 343.75 L454.80 345.30 L456.17 345.30 L456.17 346.33 L457.53 346.33 L457.53 347.37 L458.90 347.37 L458.90 348.40 L460.45 348.40 L460.45 349.05 L462.00 349.05 L462.00 349.70 L464.90 349.70 L466.80 351.30 L476.40 351.30 L477.85 351.30 L477.85 351.95 L479.30 351.95 L479.30 352.60 L481.25 352.60 L481.25 353.30 L483.20 353.30 L483.20 354.00 L485.10 355.50 L489.90 355.50 L491.80 357.40 L496.60 357.40 L497.60 359.30 L504.30 359.30" stroke="#0E5E4E" stroke-width="1.35" stroke-opacity="0.8" fill="none" stroke-linejoin="round"/>
<g transform="translate(0,408)">
<text x="6.20" y="16.50" font-size="11.6" font-weight="bold" fill="#111" stroke="#111" stroke-width="0">D</text>
<text x="238.05" y="17.90" font-size="8.4" text-anchor="middle" fill="#222222" stroke="#222222" stroke-width="0.06" textLength="255.00" lengthAdjust="spacingAndGlyphs">Molecular predictors of response and treatment failure (DiNardo 2020)</text>
<text x="170.80" y="33.00" font-size="8.25" text-anchor="middle" fill="#222222" stroke="#222222" stroke-width="0.06">CR or CRi</text>
<text x="305.80" y="33.00" font-size="8.25" text-anchor="middle" fill="#222222" stroke="#222222" stroke-width="0.06">OS at 12 months</text>
<g transform="translate(0,0.35)">
<rect x="110.00" y="41.1" width="99.51" height="18.80" fill="#FBBE05"/>
<text x="212.51" y="52.80" font-size="6.5" fill="#333" stroke="#333" stroke-width="0.12">81.3%</text>
<rect x="110.00" y="62.3" width="80.78" height="19.00" fill="#0A6650"/>
<text x="193.78" y="74.10" font-size="6.5" fill="#333" stroke="#333" stroke-width="0.12">66%</text>
<rect x="110.00" y="83.7" width="65.12" height="18.70" fill="#5C1E64"/>
<text x="178.12" y="95.35" font-size="6.5" fill="#333" stroke="#333" stroke-width="0.12">53.2%</text>
<path d="M110.00 38 V105.85 M109.35 105.85 H230.56" stroke="#333333" stroke-width="1.3" fill="none"/>
<path d="M110.00 105.85 V108.4" stroke="#333333" stroke-width="1" fill="none"/>
<text x="110.00" y="117.80" font-size="6.4" text-anchor="middle" fill="#333" stroke="#333" stroke-width="0.12">0%</text>
<path d="M140.60 105.85 V108.4" stroke="#333333" stroke-width="1" fill="none"/>
<text x="140.60" y="117.80" font-size="6.4" text-anchor="middle" fill="#333" stroke="#333" stroke-width="0.12">25%</text>
<path d="M171.20 105.85 V108.4" stroke="#333333" stroke-width="1" fill="none"/>
<text x="171.20" y="117.80" font-size="6.4" text-anchor="middle" fill="#333" stroke="#333" stroke-width="0.12">50%</text>
<path d="M201.80 105.85 V108.4" stroke="#333333" stroke-width="1" fill="none"/>
<text x="201.80" y="117.80" font-size="6.4" text-anchor="middle" fill="#333" stroke="#333" stroke-width="0.12">75%</text>
<path d="M107 50.50 H110" stroke="#333333" stroke-width="1" fill="none"/>
<path d="M107 71.80 H110" stroke="#333333" stroke-width="1" fill="none"/>
<path d="M107 93.05 H110" stroke="#333333" stroke-width="1" fill="none"/>
<rect x="245.00" y="41.1" width="85.68" height="18.80" fill="#FBBE05"/>
<text x="333.68" y="52.80" font-size="6.5" fill="#333" stroke="#333" stroke-width="0.12">70%</text>
<rect x="245.00" y="62.3" width="66.10" height="19.00" fill="#0A6650"/>
<text x="314.10" y="74.10" font-size="6.5" fill="#333" stroke="#333" stroke-width="0.12">54%</text>
<rect x="245.00" y="83.7" width="45.29" height="18.70" fill="#5C1E64"/>
<text x="293.29" y="95.35" font-size="6.5" fill="#333" stroke="#333" stroke-width="0.12">37%</text>
<path d="M245.00 38 V105.85 M244.35 105.85 H365.56" stroke="#333333" stroke-width="1.3" fill="none"/>
<path d="M245.00 105.85 V108.4" stroke="#333333" stroke-width="1" fill="none"/>
<text x="245.00" y="117.80" font-size="6.4" text-anchor="middle" fill="#333" stroke="#333" stroke-width="0.12">0%</text>
<path d="M275.60 105.85 V108.4" stroke="#333333" stroke-width="1" fill="none"/>
<text x="275.60" y="117.80" font-size="6.4" text-anchor="middle" fill="#333" stroke="#333" stroke-width="0.12">25%</text>
<path d="M306.20 105.85 V108.4" stroke="#333333" stroke-width="1" fill="none"/>
<text x="306.20" y="117.80" font-size="6.4" text-anchor="middle" fill="#333" stroke="#333" stroke-width="0.12">50%</text>
<path d="M336.80 105.85 V108.4" stroke="#333333" stroke-width="1" fill="none"/>
<text x="336.80" y="117.80" font-size="6.4" text-anchor="middle" fill="#333" stroke="#333" stroke-width="0.12">75%</text>
</g>
</g>
<text x="58.95" y="458.10" font-size="8.0" text-anchor="middle" fill="#222222" stroke="#222222" stroke-width="0.06" textLength="35.10" lengthAdjust="spacingAndGlyphs">Favorable</text>
<text x="57.95" y="465.50" font-size="6.6" text-anchor="middle" fill="#333" stroke="#333" stroke-width="0.12" textLength="36.10" lengthAdjust="spacingAndGlyphs"><tspan font-style='italic'>NPM1</tspan>, <tspan font-style='italic'>IDH2</tspan></text>
<text x="56.08" y="479.90" font-size="8.0" text-anchor="middle" fill="#222222" stroke="#222222" stroke-width="0.06" textLength="45.05" lengthAdjust="spacingAndGlyphs">Intermediate</text>
<text x="65.60" y="486.90" font-size="6.2" text-anchor="middle" fill="#333" stroke="#333" stroke-width="0.12" textLength="26.00" lengthAdjust="spacingAndGlyphs">All others</text>
<text x="54.88" y="500.60" font-size="8.0" text-anchor="middle" fill="#222222" stroke="#222222" stroke-width="0.06" textLength="42.65" lengthAdjust="spacingAndGlyphs">Unfavorable</text>
<text x="41.27" y="508.50" font-size="6.6" text-anchor="middle" fill="#333" stroke="#333" stroke-width="0.12" textLength="70.45" lengthAdjust="spacingAndGlyphs"><tspan font-style='italic'>FLT3</tspan> ITD, <tspan font-style='italic'>N/KRAS</tspan>, <tspan font-style='italic'>TP53</tspan></text>
<text x="92.90" y="461.70" font-size="6.6" text-anchor="middle" fill="#333" stroke="#333" stroke-width="0.12" textLength="22.40" lengthAdjust="spacingAndGlyphs">n = 171</text>
<text x="92.90" y="482.20" font-size="6.6" text-anchor="middle" fill="#333" stroke="#333" stroke-width="0.12" textLength="22.40" lengthAdjust="spacingAndGlyphs">n = 210</text>
<text x="92.90" y="504.00" font-size="6.6" text-anchor="middle" fill="#333" stroke="#333" stroke-width="0.12" textLength="22.40" lengthAdjust="spacingAndGlyphs">n = 128</text>
<g transform="translate(0,408)">
<g transform="translate(0,0.5)">
<path d="M416.3 37 V105.75 H512.3" stroke="#333333" stroke-width="1.3" fill="none"/>
<path d="M413.3 104.00 H416.3" stroke="#333333" stroke-width="1" fill="none"/>
<text x="409.80" y="106.75" font-size="8.45" text-anchor="end" fill="#222222" stroke="#222222" stroke-width="0.06">0%</text>
<path d="M413.3 91.16 H416.3" stroke="#333333" stroke-width="1" fill="none"/>
<text x="409.80" y="93.91" font-size="8.45" text-anchor="end" fill="#222222" stroke="#222222" stroke-width="0.06">20%</text>
<path d="M413.3 78.32 H416.3" stroke="#333333" stroke-width="1" fill="none"/>
<text x="409.80" y="81.07" font-size="8.45" text-anchor="end" fill="#222222" stroke="#222222" stroke-width="0.06">40%</text>
<path d="M413.3 65.48 H416.3" stroke="#333333" stroke-width="1" fill="none"/>
<text x="409.80" y="68.23" font-size="8.45" text-anchor="end" fill="#222222" stroke="#222222" stroke-width="0.06">60%</text>
<path d="M413.3 52.64 H416.3" stroke="#333333" stroke-width="1" fill="none"/>
<text x="409.80" y="55.39" font-size="8.45" text-anchor="end" fill="#222222" stroke="#222222" stroke-width="0.06">80%</text>
<path d="M413.3 39.80 H416.3" stroke="#333333" stroke-width="1" fill="none"/>
<text x="409.80" y="42.55" font-size="8.45" text-anchor="end" fill="#222222" stroke="#222222" stroke-width="0.06">100%</text>
<path d="M419.80 105.75 V108.8" stroke="#333333" stroke-width="1" fill="none"/>
<text x="419.80" y="119.00" font-size="8.0" text-anchor="middle" fill="#222222" stroke="#222222" stroke-width="0.06">0.0</text>
<path d="M437.73 105.75 V108.8" stroke="#333333" stroke-width="1" fill="none"/>
<text x="437.73" y="119.00" font-size="8.0" text-anchor="middle" fill="#222222" stroke="#222222" stroke-width="0.06">0.5</text>
<path d="M455.66 105.75 V108.8" stroke="#333333" stroke-width="1" fill="none"/>
<text x="455.66" y="119.00" font-size="8.0" text-anchor="middle" fill="#222222" stroke="#222222" stroke-width="0.06">1.0</text>
<path d="M473.59 105.75 V108.8" stroke="#333333" stroke-width="1" fill="none"/>
<text x="473.59" y="119.00" font-size="8.0" text-anchor="middle" fill="#222222" stroke="#222222" stroke-width="0.06">1.5</text>
<path d="M491.52 105.75 V108.8" stroke="#333333" stroke-width="1" fill="none"/>
<text x="491.52" y="119.00" font-size="8.0" text-anchor="middle" fill="#222222" stroke="#222222" stroke-width="0.06">2.0</text>
<text transform="translate(382.6,70.9) rotate(-90) scale(0.7,1)" text-anchor="middle" font-size="8.4" fill="#222222" stroke="#222222" stroke-width="0.12">Survival</text>
<text transform="translate(464.8,130.9) scale(0.7,1)" text-anchor="middle" font-size="8.4" fill="#222222" stroke="#222222" stroke-width="0.12">Time (years)</text>
</g>
<text x="456.20" y="42.40" font-size="8.3" fill="#222222" stroke="#222222" stroke-width="0.06">C−index 0.594</text>
<text x="456.20" y="52.70" font-size="8.3" fill="#222222" stroke="#222222" stroke-width="0.06">AIC 2,971</text>
</g>
<path d="M420.10 448.60 L421.47 448.60 L421.47 449.47 L422.83 449.47 L422.83 450.33 L424.20 450.33 L424.20 451.20 L425.90 451.20 L425.90 452.53 L427.60 452.53 L427.60 453.87 L429.30 453.87 L429.30 455.20 L431.00 455.20 L431.00 456.40 L432.70 456.40 L432.70 457.60 L434.40 457.60 L434.40 458.80 L436.10 458.80 L436.10 459.83 L437.80 459.83 L437.80 460.87 L439.50 460.87 L439.50 461.90 L441.20 461.90 L441.20 462.57 L442.90 462.57 L442.90 463.23 L444.60 463.23 L444.60 463.90 L446.30 463.90 L446.30 464.43 L448.00 464.43 L448.00 464.97 L449.70 464.97 L449.70 465.50 L451.40 465.50 L451.40 466.00 L453.10 466.00 L453.10 466.50 L454.80 466.50 L454.80 467.00 L456.50 467.00 L456.50 468.03 L458.20 468.03 L458.20 469.07 L459.90 469.07 L459.90 470.10 L462.00 470.10 L462.00 471.30 L463.60 471.30 L463.60 472.90 L465.20 472.90 L465.20 474.50 L466.80 474.50 L466.80 476.10 L468.40 476.10 L468.40 476.73 L470.00 476.73 L470.00 477.37 L471.60 477.37 L471.60 478.00 L473.20 478.00 L473.20 478.25 L474.80 478.25 L474.80 478.50 L476.40 478.50 L476.40 478.75 L478.00 478.75 L478.00 479.00 L479.60 479.00 L479.60 479.25 L481.20 479.25 L481.20 479.50 L482.80 479.50 L482.80 480.05 L484.40 480.05 L484.40 480.60 L486.00 480.60 L486.00 481.15 L487.60 481.15 L487.60 481.70 L489.20 481.70 L489.20 482.25 L490.80 482.25 L490.80 482.80 L492.43 482.80 L492.43 483.13 L494.07 483.13 L494.07 483.47 L495.70 483.47 L495.70 483.80 L503.30 483.80 L504.93 483.80 L504.93 484.27 L506.57 484.27 L506.57 484.73 L508.20 484.73 L508.20 485.20" stroke="#F3BE3A" stroke-width="1.35" stroke-opacity="1" fill="none" stroke-linejoin="round"/>
<path d="M420.10 448.60 L422.10 451.20 L423.47 451.20 L423.47 452.53 L424.83 452.53 L424.83 453.87 L426.20 453.87 L426.20 455.20 L427.75 455.20 L427.75 458.80 L429.30 458.80 L429.30 462.40 L430.67 462.40 L430.67 465.13 L432.03 465.13 L432.03 467.87 L433.40 467.87 L433.40 470.60 L434.90 470.60 L434.90 471.60 L436.40 471.60 L436.40 472.60 L437.95 472.60 L437.95 473.10 L439.50 473.10 L439.50 473.60 L441.05 473.60 L441.05 475.15 L442.60 475.15 L442.60 476.70 L443.97 476.70 L443.97 478.07 L445.33 478.07 L445.33 479.43 L446.70 479.43 L446.70 480.80 L448.40 480.80 L448.40 482.83 L450.10 482.83 L450.10 484.87 L451.80 484.87 L451.80 486.90 L453.50 486.90 L453.50 488.43 L455.20 488.43 L455.20 489.97 L456.90 489.97 L456.90 491.50 L462.00 491.50 L463.60 491.50 L463.60 492.47 L465.20 492.47 L465.20 493.43 L466.80 493.43 L466.80 494.40 L468.25 494.40 L468.25 494.62 L469.70 494.62 L469.70 494.85 L471.15 494.85 L471.15 495.07 L472.60 495.07 L472.60 495.30 L474.28 495.30 L474.28 496.02 L475.95 496.02 L475.95 496.75 L477.62 496.75 L477.62 497.48 L479.30 497.48 L479.30 498.20 L480.75 498.20 L480.75 498.68 L482.20 498.68 L482.20 499.15 L483.65 499.15 L483.65 499.62 L485.10 499.62 L485.10 500.10 L486.00 502.10 L491.80 502.10 L493.25 502.10 L493.25 502.80 L494.70 502.80 L494.70 503.50 L496.60 503.50 L496.60 504.00 L498.50 504.00 L498.50 504.50 L499.50 506.40 L507.20 506.40" stroke="#4A1F5E" stroke-width="1.35" stroke-opacity="1" fill="none" stroke-linejoin="round"/>
<path d="M420.10 448.60 L421.65 448.60 L421.65 450.15 L423.20 450.15 L423.20 451.70 L425.20 451.70 L425.20 453.45 L427.20 453.45 L427.20 455.20 L428.93 455.20 L428.93 456.93 L430.67 456.93 L430.67 458.67 L432.40 458.67 L432.40 460.40 L434.40 460.40 L434.40 462.15 L436.40 462.15 L436.40 463.90 L438.10 463.90 L438.10 465.10 L439.80 465.10 L439.80 466.30 L441.50 466.30 L441.50 467.50 L443.23 467.50 L443.23 469.20 L444.97 469.20 L444.97 470.90 L446.70 470.90 L446.70 472.60 L448.40 472.60 L448.40 473.63 L450.10 473.63 L450.10 474.67 L451.80 474.67 L451.80 475.70 L453.17 475.70 L453.17 476.53 L454.53 476.53 L454.53 477.37 L455.90 477.37 L455.90 478.20 L457.90 478.20 L457.90 479.00 L459.90 479.00 L459.90 479.80 L462.00 479.80 L462.00 481.40 L463.60 481.40 L463.60 482.83 L465.20 482.83 L465.20 484.27 L466.80 484.27 L466.80 485.70 L468.40 485.70 L468.40 486.83 L470.00 486.83 L470.00 487.97 L471.60 487.97 L471.60 489.10 L473.20 489.10 L473.20 489.57 L474.80 489.57 L474.80 490.03 L476.40 490.03 L476.40 490.50 L478.00 490.50 L478.00 491.30 L479.60 491.30 L479.60 492.10 L481.20 492.10 L481.20 492.90 L490.80 492.90 L492.75 492.90 L492.75 494.60 L494.70 494.60 L494.70 496.30 L498.50 496.80 L500.50 500.10 L501.93 500.10 L501.93 500.35 L503.35 500.35 L503.35 500.60 L504.77 500.60 L504.77 500.85 L506.20 500.85 L506.20 501.10" stroke="#0E5E4E" stroke-width="1.35" stroke-opacity="0.8" fill="none" stroke-linejoin="round"/>
<g transform="translate(0,544)">
<text x="6.20" y="16.50" font-size="11.6" font-weight="bold" fill="#111" stroke="#111" stroke-width="0">E</text>
<text x="237.88" y="17.90" font-size="8.4" text-anchor="middle" fill="#222222" stroke="#222222" stroke-width="0.06" textLength="196.35" lengthAdjust="spacingAndGlyphs">Mayo predictors of treatment response (Gangat 2023)</text>
<text x="170.80" y="33.00" font-size="8.25" text-anchor="middle" fill="#222222" stroke="#222222" stroke-width="0.06">CR or CRi</text>
<text x="305.80" y="33.00" font-size="8.25" text-anchor="middle" fill="#222222" stroke="#222222" stroke-width="0.06">OS at 12 months</text>
<g transform="translate(0,0.45)">
<rect x="110.00" y="41.1" width="100.12" height="18.80" fill="#FBBE05"/>
<text x="213.12" y="52.80" font-size="6.5" fill="#333" stroke="#333" stroke-width="0.12">81.8%</text>
<rect x="110.00" y="62.3" width="76.99" height="19.00" fill="#0A6650"/>
<text x="189.99" y="74.10" font-size="6.5" fill="#333" stroke="#333" stroke-width="0.12">62.9%</text>
<rect x="110.00" y="83.7" width="72.34" height="18.70" fill="#5C1E64"/>
<text x="185.34" y="95.35" font-size="6.5" fill="#333" stroke="#333" stroke-width="0.12">59.1%</text>
<path d="M110.00 38 V105.85 M109.35 105.85 H230.56" stroke="#333333" stroke-width="1.3" fill="none"/>
<path d="M110.00 105.85 V108.4" stroke="#333333" stroke-width="1" fill="none"/>
<text x="110.00" y="117.80" font-size="6.4" text-anchor="middle" fill="#333" stroke="#333" stroke-width="0.12">0%</text>
<path d="M140.60 105.85 V108.4" stroke="#333333" stroke-width="1" fill="none"/>
<text x="140.60" y="117.80" font-size="6.4" text-anchor="middle" fill="#333" stroke="#333" stroke-width="0.12">25%</text>
<path d="M171.20 105.85 V108.4" stroke="#333333" stroke-width="1" fill="none"/>
<text x="171.20" y="117.80" font-size="6.4" text-anchor="middle" fill="#333" stroke="#333" stroke-width="0.12">50%</text>
<path d="M201.80 105.85 V108.4" stroke="#333333" stroke-width="1" fill="none"/>
<text x="201.80" y="117.80" font-size="6.4" text-anchor="middle" fill="#333" stroke="#333" stroke-width="0.12">75%</text>
<path d="M107 50.50 H110" stroke="#333333" stroke-width="1" fill="none"/>
<path d="M107 71.80 H110" stroke="#333333" stroke-width="1" fill="none"/>
<path d="M107 93.05 H110" stroke="#333333" stroke-width="1" fill="none"/>
<rect x="245.00" y="41.1" width="86.90" height="18.80" fill="#FBBE05"/>
<text x="334.90" y="52.80" font-size="6.5" fill="#333" stroke="#333" stroke-width="0.12">71%</text>
<rect x="245.00" y="62.3" width="58.75" height="19.00" fill="#0A6650"/>
<text x="306.75" y="74.10" font-size="6.5" fill="#333" stroke="#333" stroke-width="0.12">48%</text>
<rect x="245.00" y="83.7" width="55.08" height="18.70" fill="#5C1E64"/>
<text x="303.08" y="95.35" font-size="6.5" fill="#333" stroke="#333" stroke-width="0.12">45%</text>
<path d="M245.00 38 V105.85 M244.35 105.85 H365.56" stroke="#333333" stroke-width="1.3" fill="none"/>
<path d="M245.00 105.85 V108.4" stroke="#333333" stroke-width="1" fill="none"/>
<text x="245.00" y="117.80" font-size="6.4" text-anchor="middle" fill="#333" stroke="#333" stroke-width="0.12">0%</text>
<path d="M275.60 105.85 V108.4" stroke="#333333" stroke-width="1" fill="none"/>
<text x="275.60" y="117.80" font-size="6.4" text-anchor="middle" fill="#333" stroke="#333" stroke-width="0.12">25%</text>
<path d="M306.20 105.85 V108.4" stroke="#333333" stroke-width="1" fill="none"/>
<text x="306.20" y="117.80" font-size="6.4" text-anchor="middle" fill="#333" stroke="#333" stroke-width="0.12">50%</text>
<path d="M336.80 105.85 V108.4" stroke="#333333" stroke-width="1" fill="none"/>
<text x="336.80" y="117.80" font-size="6.4" text-anchor="middle" fill="#333" stroke="#333" stroke-width="0.12">75%</text>
</g>
</g>
<text x="59.15" y="593.75" font-size="8.0" text-anchor="middle" fill="#222222" stroke="#222222" stroke-width="0.06" textLength="35.50" lengthAdjust="spacingAndGlyphs">Favorable</text>
<text x="46.55" y="601.60" font-size="6.6" text-anchor="middle" fill="#333" stroke="#333" stroke-width="0.12" textLength="59.90" lengthAdjust="spacingAndGlyphs"><tspan font-style='italic'>NPM1</tspan>, <tspan font-style='italic'>IDH2</tspan>, <tspan font-style='italic'>DDX41</tspan></text>
<text x="56.08" y="615.50" font-size="8.0" text-anchor="middle" fill="#222222" stroke="#222222" stroke-width="0.06" textLength="45.05" lengthAdjust="spacingAndGlyphs">Intermediate</text>
<text x="65.60" y="622.70" font-size="6.2" text-anchor="middle" fill="#333" stroke="#333" stroke-width="0.12" textLength="26.00" lengthAdjust="spacingAndGlyphs">All others</text>
<text x="55.03" y="636.70" font-size="8.0" text-anchor="middle" fill="#222222" stroke="#222222" stroke-width="0.06" textLength="42.95" lengthAdjust="spacingAndGlyphs">Unfavorable</text>
<text x="42.85" y="644.50" font-size="6.6" text-anchor="middle" fill="#333" stroke="#333" stroke-width="0.12" textLength="67.30" lengthAdjust="spacingAndGlyphs"><tspan font-style='italic'>FLT3</tspan> ITD, <tspan font-style='italic'>RUNX1</tspan>, <tspan font-style='italic'>TP53</tspan></text>
<text x="92.90" y="597.50" font-size="6.6" text-anchor="middle" fill="#333" stroke="#333" stroke-width="0.12" textLength="22.40" lengthAdjust="spacingAndGlyphs">n = 171</text>
<text x="92.90" y="618.70" font-size="6.6" text-anchor="middle" fill="#333" stroke="#333" stroke-width="0.12" textLength="22.40" lengthAdjust="spacingAndGlyphs">n = 162</text>
<text x="92.90" y="639.80" font-size="6.6" text-anchor="middle" fill="#333" stroke="#333" stroke-width="0.12" textLength="22.40" lengthAdjust="spacingAndGlyphs">n = 163</text>
<g transform="translate(0,544)">
<g transform="translate(0,0.5)">
<path d="M416.3 37 V105.75 H512.3" stroke="#333333" stroke-width="1.3" fill="none"/>
<path d="M413.3 104.00 H416.3" stroke="#333333" stroke-width="1" fill="none"/>
<text x="409.80" y="106.75" font-size="8.45" text-anchor="end" fill="#222222" stroke="#222222" stroke-width="0.06">0%</text>
<path d="M413.3 91.16 H416.3" stroke="#333333" stroke-width="1" fill="none"/>
<text x="409.80" y="93.91" font-size="8.45" text-anchor="end" fill="#222222" stroke="#222222" stroke-width="0.06">20%</text>
<path d="M413.3 78.32 H416.3" stroke="#333333" stroke-width="1" fill="none"/>
<text x="409.80" y="81.07" font-size="8.45" text-anchor="end" fill="#222222" stroke="#222222" stroke-width="0.06">40%</text>
<path d="M413.3 65.48 H416.3" stroke="#333333" stroke-width="1" fill="none"/>
<text x="409.80" y="68.23" font-size="8.45" text-anchor="end" fill="#222222" stroke="#222222" stroke-width="0.06">60%</text>
<path d="M413.3 52.64 H416.3" stroke="#333333" stroke-width="1" fill="none"/>
<text x="409.80" y="55.39" font-size="8.45" text-anchor="end" fill="#222222" stroke="#222222" stroke-width="0.06">80%</text>
<path d="M413.3 39.80 H416.3" stroke="#333333" stroke-width="1" fill="none"/>
<text x="409.80" y="42.55" font-size="8.45" text-anchor="end" fill="#222222" stroke="#222222" stroke-width="0.06">100%</text>
<path d="M419.80 105.75 V108.8" stroke="#333333" stroke-width="1" fill="none"/>
<text x="419.80" y="119.00" font-size="8.0" text-anchor="middle" fill="#222222" stroke="#222222" stroke-width="0.06">0.0</text>
<path d="M437.73 105.75 V108.8" stroke="#333333" stroke-width="1" fill="none"/>
<text x="437.73" y="119.00" font-size="8.0" text-anchor="middle" fill="#222222" stroke="#222222" stroke-width="0.06">0.5</text>
<path d="M455.66 105.75 V108.8" stroke="#333333" stroke-width="1" fill="none"/>
<text x="455.66" y="119.00" font-size="8.0" text-anchor="middle" fill="#222222" stroke="#222222" stroke-width="0.06">1.0</text>
<path d="M473.59 105.75 V108.8" stroke="#333333" stroke-width="1" fill="none"/>
<text x="473.59" y="119.00" font-size="8.0" text-anchor="middle" fill="#222222" stroke="#222222" stroke-width="0.06">1.5</text>
<path d="M491.52 105.75 V108.8" stroke="#333333" stroke-width="1" fill="none"/>
<text x="491.52" y="119.00" font-size="8.0" text-anchor="middle" fill="#222222" stroke="#222222" stroke-width="0.06">2.0</text>
<text transform="translate(382.6,70.9) rotate(-90) scale(0.7,1)" text-anchor="middle" font-size="8.4" fill="#222222" stroke="#222222" stroke-width="0.12">Survival</text>
<text transform="translate(464.8,130.9) scale(0.7,1)" text-anchor="middle" font-size="8.4" fill="#222222" stroke="#222222" stroke-width="0.12">Time (years)</text>
</g>
<text x="456.20" y="42.30" font-size="8.3" fill="#222222" stroke="#222222" stroke-width="0.06">C−index 0.578</text>
<text x="456.20" y="52.60" font-size="8.3" fill="#222222" stroke="#222222" stroke-width="0.06">AIC 2,870</text>
</g>
<path d="M420.10 584.60 L421.47 584.60 L421.47 585.27 L422.83 585.27 L422.83 585.93 L424.20 585.93 L424.20 586.60 L425.90 586.60 L425.90 587.80 L427.60 587.80 L427.60 589.00 L429.30 589.00 L429.30 590.20 L431.00 590.20 L431.00 591.57 L432.70 591.57 L432.70 592.93 L434.40 592.93 L434.40 594.30 L436.10 594.30 L436.10 595.17 L437.80 595.17 L437.80 596.03 L439.50 596.03 L439.50 596.90 L441.20 596.90 L441.20 597.40 L442.90 597.40 L442.90 597.90 L444.60 597.90 L444.60 598.40 L446.30 598.40 L446.30 599.07 L448.00 599.07 L448.00 599.73 L449.70 599.73 L449.70 600.40 L451.40 600.40 L451.40 600.93 L453.10 600.93 L453.10 601.47 L454.80 601.47 L454.80 602.00 L456.50 602.00 L456.50 602.83 L458.20 602.83 L458.20 603.67 L459.90 603.67 L459.90 604.50 L461.27 604.50 L461.27 605.53 L462.63 605.53 L462.63 606.57 L464.00 606.57 L464.00 607.60 L466.00 609.80 L467.40 609.80 L467.40 610.38 L468.80 610.38 L468.80 610.95 L470.20 610.95 L470.20 611.52 L471.60 611.52 L471.60 612.10 L473.20 612.10 L473.20 612.50 L474.80 612.50 L474.80 612.90 L476.40 612.90 L476.40 613.30 L478.00 613.30 L478.00 613.70 L479.60 613.70 L479.60 614.10 L481.20 614.10 L481.20 614.50 L482.80 614.50 L482.80 615.07 L484.40 615.07 L484.40 615.63 L486.00 615.63 L486.00 616.20 L487.60 616.20 L487.60 616.77 L489.20 616.77 L489.20 617.33 L490.80 617.33 L490.80 617.90 L492.43 617.90 L492.43 618.37 L494.07 618.37 L494.07 618.83 L495.70 618.83 L495.70 619.30 L503.30 619.30 L504.93 619.30 L504.93 619.93 L506.57 619.93 L506.57 620.57 L508.20 620.57 L508.20 621.20" stroke="#F3BE3A" stroke-width="1.35" stroke-opacity="1" fill="none" stroke-linejoin="round"/>
<path d="M420.10 584.60 L422.10 587.20 L423.47 587.20 L423.47 588.90 L424.83 588.90 L424.83 590.60 L426.20 590.60 L426.20 592.30 L427.75 592.30 L427.75 594.85 L429.30 594.85 L429.30 597.40 L431.00 597.40 L431.00 599.10 L432.70 599.10 L432.70 600.80 L434.40 600.80 L434.40 602.50 L436.10 602.50 L436.10 603.50 L437.80 603.50 L437.80 604.50 L439.50 604.50 L439.50 605.50 L441.30 605.50 L441.30 607.05 L443.10 607.05 L443.10 608.60 L444.90 608.60 L444.90 610.15 L446.70 610.15 L446.70 611.70 L448.70 611.70 L448.70 614.25 L450.70 614.25 L450.70 616.80 L452.25 616.80 L452.25 617.57 L453.80 617.57 L453.80 618.35 L455.35 618.35 L455.35 619.12 L456.90 619.12 L456.90 619.90 L458.27 619.90 L458.27 620.57 L459.63 620.57 L459.63 621.23 L461.00 621.23 L461.00 621.90 L462.67 621.90 L462.67 622.77 L464.33 622.77 L464.33 623.63 L466.00 623.63 L466.00 624.50 L467.40 624.50 L467.40 625.48 L468.80 625.48 L468.80 626.45 L470.20 626.45 L470.20 627.42 L471.60 627.42 L471.60 628.40 L473.34 628.40 L473.34 629.08 L475.08 629.08 L475.08 629.76 L476.82 629.76 L476.82 630.44 L478.56 630.44 L478.56 631.12 L480.30 631.12 L480.30 631.80 L484.10 632.30 L486.00 634.20 L490.80 634.20 L494.70 634.70 L496.60 634.70 L496.60 635.65 L498.50 635.65 L498.50 636.60 L500.50 638.50 L506.20 639.00" stroke="#4A1F5E" stroke-width="1.35" stroke-opacity="1" fill="none" stroke-linejoin="round"/>
<path d="M420.10 584.60 L421.65 584.60 L421.65 585.90 L423.20 585.90 L423.20 587.20 L424.70 587.20 L424.70 588.70 L426.20 588.70 L426.20 590.20 L427.75 590.20 L427.75 593.25 L429.30 593.25 L429.30 596.30 L431.00 596.30 L431.00 598.03 L432.70 598.03 L432.70 599.77 L434.40 599.77 L434.40 601.50 L436.10 601.50 L436.10 602.50 L437.80 602.50 L437.80 603.50 L439.50 603.50 L439.50 604.50 L441.20 604.50 L441.20 605.87 L442.90 605.87 L442.90 607.23 L444.60 607.23 L444.60 608.60 L446.30 608.60 L446.30 609.97 L448.00 609.97 L448.00 611.33 L449.70 611.33 L449.70 612.70 L451.40 612.70 L451.40 613.73 L453.10 613.73 L453.10 614.77 L454.80 614.77 L454.80 615.80 L456.50 615.80 L456.50 617.17 L458.20 617.17 L458.20 618.53 L459.90 618.53 L459.90 619.90 L462.00 619.90 L462.00 621.70 L463.60 621.70 L463.60 623.13 L465.20 623.13 L465.20 624.57 L466.80 624.57 L466.80 626.00 L468.40 626.00 L468.40 626.80 L470.00 626.80 L470.00 627.60 L471.60 627.60 L471.60 628.40 L473.20 628.40 L473.20 628.73 L474.80 628.73 L474.80 629.07 L476.40 629.07 L476.40 629.40 L478.35 629.40 L478.35 630.60 L480.30 630.60 L480.30 631.80 L490.80 631.80 L492.80 634.70 L493.70 638.10 L497.60 638.10 L499.50 640.50 L501.18 640.50 L501.18 640.25 L502.85 640.25 L502.85 640.00 L504.52 640.00 L504.52 639.75 L506.20 639.75 L506.20 639.50" stroke="#0E5E4E" stroke-width="1.35" stroke-opacity="0.8" fill="none" stroke-linejoin="round"/>
</svg>
<div id="frame"></div>
</body></html>
